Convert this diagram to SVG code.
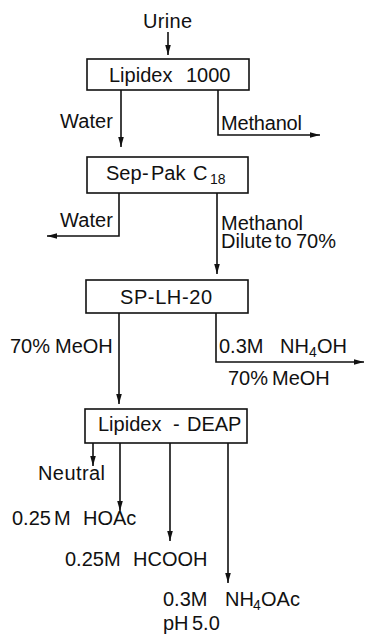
<svg xmlns="http://www.w3.org/2000/svg" width="365" height="634" viewBox="0 0 365 634">
<defs>
<marker id="ah" markerUnits="userSpaceOnUse" markerWidth="10" markerHeight="8" refX="10" refY="4" orient="auto">
<path d="M0,1.2 L10,4 L0,6.8 z" fill="#111"/>
</marker>
<style>
text{font-family:"Liberation Sans",Arial,sans-serif;font-size:20px;fill:#111}
.sub{font-size:14px}
.box rect{fill:#fff;stroke:#111;stroke-width:1.6}
#connectors path{fill:none;stroke:#111;stroke-width:1.6;marker-end:url(#ah)}
</style>
</defs>
<rect width="365" height="634" fill="#fff"/>
<g id="connectors">
<path d="M168,32 V55"/>
<path d="M121,90 V147"/>
<path d="M218,90 V135 H320"/>
<path d="M119,193 V236 H47"/>
<path d="M217,193 V274"/>
<path d="M119,313 V404"/>
<path d="M216,313 V362 H364"/>
<path d="M93,443 V466"/>
<path d="M120,443 V511"/>
<path d="M170,443 V541"/>
<path d="M228,443 V583"/>
</g>
<g id="urine"><text x="143" y="28" textLength="49">Urine</text></g>
<g id="lipidex1000" class="box">
<rect x="87" y="59" width="162" height="31"/>
<text y="82"><tspan x="109">Lipidex</tspan><tspan x="186">1000</tspan></text>
</g>
<g id="seppak" class="box">
<rect x="87" y="157" width="161" height="36"/>
<text y="180"><tspan x="106">Sep</tspan><tspan x="142">-</tspan><tspan x="151">Pak</tspan><tspan x="193">C</tspan><tspan class="sub" x="210" dy="4">18</tspan></text>
</g>
<g id="splh20" class="box">
<rect x="86" y="280" width="162" height="33"/>
<text x="120" y="304" textLength="92">SP-LH-20</text>
</g>
<g id="lipidexdeap" class="box">
<rect x="85" y="409" width="162" height="34"/>
<text y="431"><tspan x="98">Lipidex</tspan><tspan x="173">-</tspan><tspan x="187">DEAP</tspan></text>
</g>
<g id="labels">
<text x="60" y="128" textLength="53">Water</text>
<text x="221" y="130" textLength="81">Methanol</text>
<text x="60" y="227" textLength="53">Water</text>
<text x="221" y="230" textLength="82">Methanol</text>
<text y="248"><tspan x="221">Dilute</tspan><tspan x="275">to</tspan><tspan x="296">70%</tspan></text>
<text y="353"><tspan x="10">70%</tspan><tspan x="55">MeOH</tspan></text>
<text y="353"><tspan x="219">0.3M</tspan><tspan x="280">NH</tspan><tspan class="sub" x="309" dy="4">4</tspan><tspan x="317" dy="-4">OH</tspan></text>
<text y="385"><tspan x="228">70%</tspan><tspan x="272">MeOH</tspan></text>
<text x="38" y="480" textLength="67">Neutral</text>
<text y="525"><tspan x="12">0.25</tspan><tspan x="54">M</tspan><tspan x="83">HOAc</tspan></text>
<text y="566"><tspan x="65">0.25M</tspan><tspan x="133">HCOOH</tspan></text>
<text y="606"><tspan x="163">0.3M</tspan><tspan x="225">NH</tspan><tspan class="sub" x="253" dy="4">4</tspan><tspan x="261" dy="-4">OAc</tspan></text>
<text y="630"><tspan x="163">pH</tspan><tspan x="192">5.0</tspan></text>
</g>
</svg>
